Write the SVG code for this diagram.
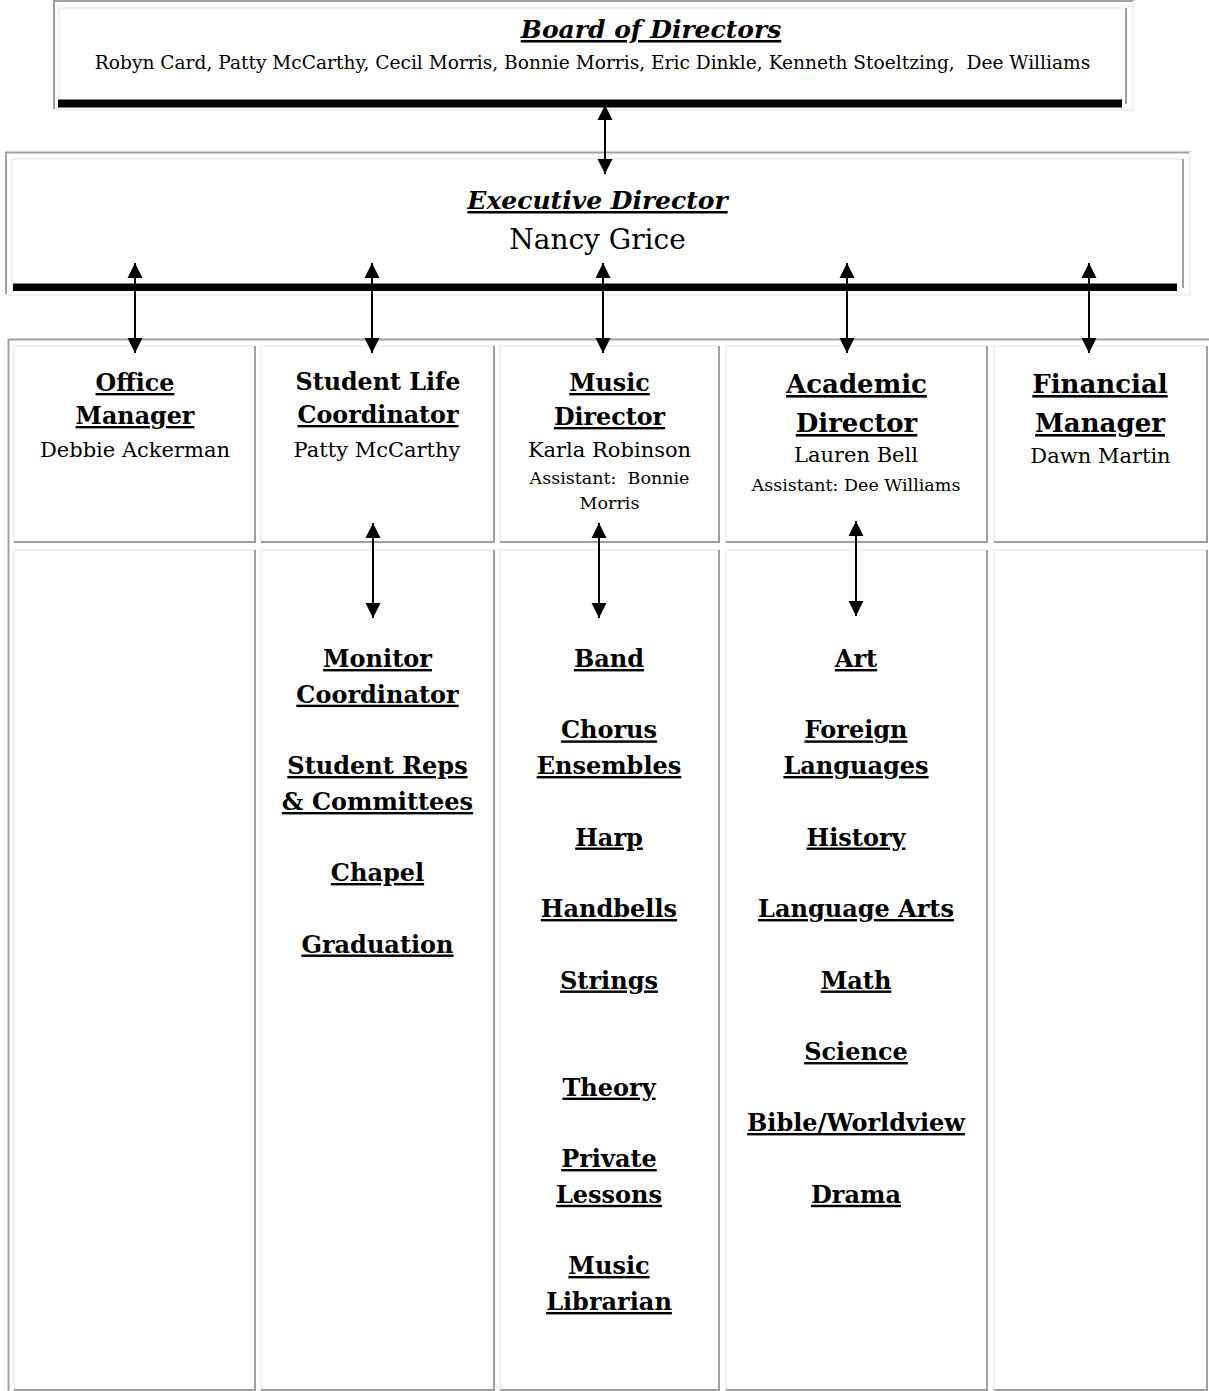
<svg xmlns="http://www.w3.org/2000/svg" width="1209" height="1391" viewBox="0 0 1209 1391">
<defs>
<style>
.lt{stroke:#efefef;stroke-width:2;fill:none}
.dk{stroke:#a0a0a0;stroke-width:2;fill:none}
.bar{fill:#000}
text{font-family:"DejaVu Serif","Liberation Serif",serif;fill:#000;text-anchor:middle;white-space:pre}
.title{font-weight:bold;font-style:italic;font-size:25px;text-decoration:underline}
.head{font-weight:bold;font-size:23.8px;text-decoration:underline}
.head2{font-weight:bold;font-size:26px;text-decoration:underline}
.headn{font-weight:bold;font-size:23.8px}
.name{font-size:21px}
.asst{font-size:17.5px}
.item{font-weight:bold;font-size:24px;text-decoration:underline}
.conn{stroke:#000;stroke-width:2;fill:none;marker-start:url(#ah);marker-end:url(#ah)}
</style>
<marker id="ah" markerUnits="userSpaceOnUse" markerWidth="16" markerHeight="16" viewBox="0 -8 16 16" refX="15" refY="0" orient="auto-start-reverse">
<path d="M0,-7.5 L15,0 L0,7.5 Z" fill="#000"/>
</marker>
</defs>
<rect width="1209" height="1391" fill="#fff"/>

<g id="board">
<path class="dk" d="M54,111 V1 H1134"/>
<path class="lt" d="M1133,1 V110 H53"/>
<path class="lt" d="M59,104 V8 H1126"/>
<path class="dk" d="M1126,8 V104"/>
<rect class="bar" x="58" y="99.5" width="1064" height="8"/>
<text class="title" x="651" y="38">Board of Directors</text>
<text style="font-size:18.6px" x="592.5" y="68.5">Robyn Card, Patty McCarthy, Cecil Morris, Bonnie Morris, Eric Dinkle, Kenneth Stoeltzing,  Dee Williams</text>
</g>

<g id="executive">
<path class="dk" d="M6,296 V152.5 H1191"/>
<path class="lt" d="M1190,152 V295 H5"/>
<path class="lt" d="M11.5,288 V159 H1183"/>
<path class="dk" d="M1183,159 V288"/>
<rect class="bar" x="13" y="283.5" width="1164" height="7.5"/>
<text class="title" x="597.5" y="209">Executive Director</text>
<text style="font-size:28px" x="597.5" y="249">Nancy Grice</text>
</g>

<g id="table-frame">
<path class="dk" d="M8.5,1391 V339.5 H1209"/>
</g>

<g id="office-manager">
<path class="lt" d="M14,542 V346 H255"/><path class="dk" d="M255,346 V542 H14"/>
<text class="head" x="135" y="391">Office</text>
<text class="head" x="135" y="424">Manager</text>
<text class="name" x="135" y="457">Debbie Ackerman</text>
</g>
<g id="office-manager-staff">
<path class="lt" d="M14,1390 V550 H255"/><path class="dk" d="M255,550 V1390 H14"/>
</g>

<g id="student-life">
<path class="lt" d="M261,542 V346 H494"/><path class="dk" d="M494,346 V542 H261"/>
<text class="headn" x="378" y="390">Student Life</text>
<text class="head" x="378" y="423">Coordinator</text>
<text class="name" x="377" y="457">Patty McCarthy</text>
</g>
<g id="student-life-staff">
<path class="lt" d="M261,1390 V550 H494"/><path class="dk" d="M494,550 V1390 H261"/>
<text class="item" x="377.5" y="667">Monitor</text>
<text class="item" x="377.5" y="702.7">Coordinator</text>
<text class="item" x="377.5" y="774">Student Reps</text>
<text class="item" x="377.5" y="810">&amp; Committees</text>
<text class="item" x="377.5" y="881">Chapel</text>
<text class="item" x="377.5" y="952.5">Graduation</text>
</g>

<g id="music-director">
<path class="lt" d="M500,542 V346 H719"/><path class="dk" d="M719,346 V542 H500"/>
<text class="head" x="609.5" y="391">Music</text>
<text class="head" x="609.5" y="425">Director</text>
<text class="name" x="609.5" y="457">Karla Robinson</text>
<text class="asst" x="609.5" y="484">Assistant:  Bonnie</text>
<text class="asst" x="609.5" y="509">Morris</text>
</g>
<g id="music-staff">
<path class="lt" d="M500,1390 V550 H719"/><path class="dk" d="M719,550 V1390 H500"/>
<text class="item" x="609" y="667">Band</text>
<text class="item" x="609" y="738.4">Chorus</text>
<text class="item" x="609" y="774">Ensembles</text>
<text class="item" x="609" y="845.5">Harp</text>
<text class="item" x="609" y="917">Handbells</text>
<text class="item" x="609" y="988.5">Strings</text>
<text class="item" x="609" y="1095.6">Theory</text>
<text class="item" x="609" y="1167">Private</text>
<text class="item" x="609" y="1202.8">Lessons</text>
<text class="item" x="609" y="1274">Music</text>
<text class="item" x="609" y="1310">Librarian</text>
</g>

<g id="academic-director">
<path class="lt" d="M726,542 V346 H987"/><path class="dk" d="M987,346 V542 H726"/>
<text class="head2" x="856.5" y="393">Academic</text>
<text class="head2" x="856.5" y="432">Director</text>
<text class="name" x="856" y="462">Lauren Bell</text>
<text class="asst" x="856" y="491">Assistant: Dee Williams</text>
</g>
<g id="academic-staff">
<path class="lt" d="M726,1390 V550 H987"/><path class="dk" d="M987,550 V1390 H726"/>
<text class="item" x="856" y="667">Art</text>
<text class="item" x="856" y="738.4">Foreign</text>
<text class="item" x="856" y="774">Languages</text>
<text class="item" x="856" y="845.5">History</text>
<text class="item" x="856" y="917">Language Arts</text>
<text class="item" x="856" y="988.5">Math</text>
<text class="item" x="856" y="1060">Science</text>
<text class="item" x="856" y="1131">Bible/Worldview</text>
<text class="item" x="856" y="1202.8">Drama</text>
</g>

<g id="financial-manager">
<path class="lt" d="M994,542 V346 H1207"/><path class="dk" d="M1207,346 V542 H994"/>
<text class="head2" x="1100" y="393">Financial</text>
<text class="head2" x="1100" y="432">Manager</text>
<text class="name" x="1100.5" y="463">Dawn Martin</text>
</g>
<g id="financial-staff">
<path class="lt" d="M994,1390 V550 H1207"/><path class="dk" d="M1207,550 V1390 H994"/>
</g>

<g id="connectors">
<line class="conn" x1="605" y1="105" x2="605" y2="174"/>
<line class="conn" x1="135" y1="263" x2="135" y2="353"/>
<line class="conn" x1="372" y1="263" x2="372" y2="353"/>
<line class="conn" x1="603" y1="263" x2="603" y2="353"/>
<line class="conn" x1="847" y1="263" x2="847" y2="353"/>
<line class="conn" x1="1089" y1="263" x2="1089" y2="353"/>
<line class="conn" x1="373" y1="523" x2="373" y2="618"/>
<line class="conn" x1="599" y1="523" x2="599" y2="618"/>
<line class="conn" x1="856" y1="521" x2="856" y2="616"/>
</g>
</svg>
